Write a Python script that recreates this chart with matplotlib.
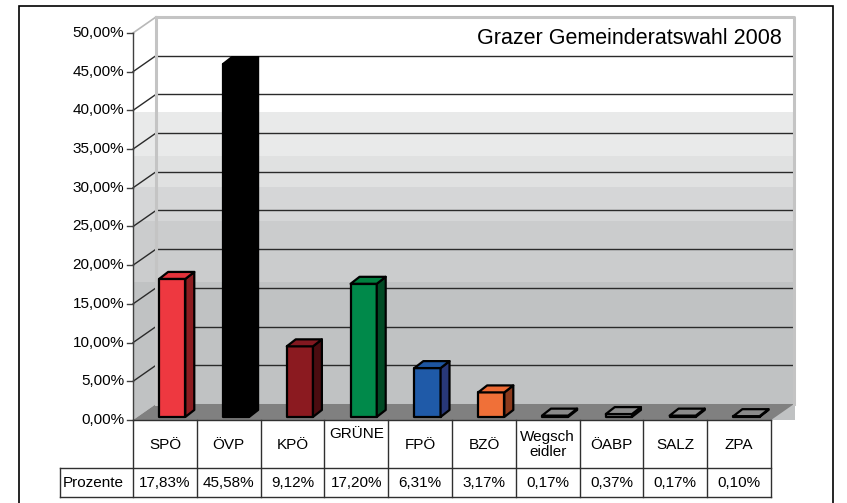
import numpy as np
import matplotlib.pyplot as plt
from matplotlib.patches import Polygon, Rectangle
from matplotlib.colors import to_rgb

plt.rcParams['font.family'] = ['Liberation Sans', 'DejaVu Sans']

# daten
parteien = ['SPÖ', 'ÖVP', 'KPÖ', 'GRÜNE', 'FPÖ', 'BZÖ', 'Wegsch\neidler', 'ÖABP', 'SALZ', 'ZPA']
werte = [17.83, 45.58, 9.12, 17.20, 6.31, 3.17, 0.17, 0.37, 0.17, 0.10]
werte_txt = ['17,83%', '45,58%', '9,12%', '17,20%', '6,31%', '3,17%', '0,17%', '0,37%', '0,17%', '0,10%']
vorne = ['#ee3840', '#000000', '#8b1a20', '#00894a', '#1f5aa8', '#f07038', '#8a8a8a', '#8a8a8a', '#8a8a8a', '#8a8a8a']
seite = ['#8c1c20', '#000000', '#4a0c10', '#004a24', '#283878', '#8c3a1c', '#8a8a8a', '#8a8a8a', '#8a8a8a', '#8a8a8a']
oben = ['#e4323a', '#000000', '#821820', '#00803f', '#1d55a0', '#ec6a34', '#8a8a8a', '#8a8a8a', '#8a8a8a', '#8a8a8a']
yticks = [0, 5, 10, 15, 20, 25, 30, 35, 40, 45, 50]

# hintergrund-streifen (untergrenze in %, farbe)
streifen_y = [39.8, 34.0, 30.0, 25.7, 17.8, 12.3, -5]
streifen_f = ['#f2f3f3', '#e9eaea', '#e0e1e1', '#d5d6d7', '#cbcccd', '#c0c2c3', '#c0c2c3']

n = len(parteien)
dx, dy = 0.36, 2.07      # tiefe der wand
bdx, bdy = 0.14, 0.9     # tiefe der balken
ymax = 50

fig = plt.figure(figsize=(8.47, 5.03), dpi=100)
ax = fig.add_axes([0, 0, 1, 1])
ax.set_xlim(-2.085, 11.19)
ax.set_ylim(-10.72, 54.26)
ax.axis('off')

# rahmen
ax.add_patch(Rectangle((-1.787, -14), 12.757, 67.49, fill=False, ec='black', lw=1.2, zorder=1))

# streifenbild fuer die waende
yy = np.linspace(ymax + dy, 0, 600)
bild = np.ones((600, 1, 3))
for i, y in enumerate(yy):
    for grenze, farbe in zip(streifen_y, streifen_f):
        if y < 39.8 and y >= grenze:
            bild[i, 0] = to_rgb(farbe)
            break
ax.imshow(bild, extent=[dx, n + dx, 0, ymax + dy], aspect='auto', interpolation='nearest', zorder=2)
seitenwand = ax.imshow(bild, extent=[0, dx, 0, ymax + dy], aspect='auto', interpolation='nearest', zorder=2)
poly = Polygon([(0, 0), (dx, dy), (dx, ymax + dy), (0, ymax)], closed=True, fc='none', ec='none')
ax.add_patch(poly)
seitenwand.set_clip_path(poly)

# boden
ax.add_patch(Polygon([(0, 0), (n, 0), (n + dx, dy), (dx, dy)], closed=True,
                     fc='#808080', ec='none', zorder=3))

# gitterlinien
for v in yticks[1:-1]:
    ax.plot([dx, n + dx], [v + dy, v + dy], color='#2a2a2a', lw=1, zorder=3)
    ax.plot([0, dx], [v, v + dy], color='#2a2a2a', lw=1, zorder=3)
ax.plot([0, dx], [ymax, ymax + dy], color='#b8b8b8', lw=1.2, zorder=3)
ax.plot([dx, n + dx, n + dx], [ymax + dy, ymax + dy, dy], color='#c4c4c4', lw=2.2, zorder=3)
ax.plot([dx, dx], [dy, ymax + dy], color='#c4c4c4', lw=2.2, zorder=3)

# y-achse
ax.plot([0, 0], [0, ymax], color='#404040', lw=1, zorder=4)
for v in yticks:
    ax.plot([-0.1, 0], [v, v], color='#404040', lw=1, zorder=4)
    ax.text(-0.14, v, f'{v:.2f}%'.replace('.', ','), ha='right', va='center', fontsize=11, zorder=5)

# balken
for i in range(n):
    x0 = i + 0.41
    x1 = i + 0.82
    y0 = 0.4
    y1 = y0 + werte[i]
    kw = dict(closed=True, ec='black', lw=1.6, joinstyle='round', zorder=6)
    ax.add_patch(Polygon([(x0, y0), (x1, y0), (x1, y1), (x0, y1)], fc=vorne[i], **kw))
    ax.add_patch(Polygon([(x1, y0), (x1 + bdx, y0 + bdy), (x1 + bdx, y1 + bdy), (x1, y1)], fc=seite[i], **kw))
    ax.add_patch(Polygon([(x0, y1), (x1, y1), (x1 + bdx, y1 + bdy), (x0 + bdx, y1 + bdy)], fc=oben[i], **kw))

# titel
ax.text(10.16, 49.3, 'Grazer Gemeinderatswahl 2008', ha='right', va='center', fontsize=15.5, zorder=7)

# tabelle
r1, r2 = -6.2, -9.95
links = -1.144
lc = '#303030'
ax.plot([0, n], [0, 0], color=lc, lw=1, zorder=7)
ax.plot([links, n], [r1, r1], color=lc, lw=1, zorder=7)
ax.plot([links, n], [r2, r2], color=lc, lw=1, zorder=7)
ax.plot([links, links], [r1, r2], color=lc, lw=1, zorder=7)
for i in range(n + 1):
    ax.plot([i, i], [0, r2], color=lc, lw=1, zorder=7)
for i in range(n):
    if parteien[i] == 'GRÜNE':
        ax.text(i + 0.5, -1.85, parteien[i], ha='center', va='center', fontsize=11, zorder=8)
    else:
        ax.text(i + 0.5, -3.2, parteien[i], ha='center', va='center', fontsize=11,
                linespacing=1.1, zorder=8)
    ax.text(i + 0.5, -8.1, werte_txt[i], ha='center', va='center', fontsize=11, zorder=8)
ax.text(links + 0.05, -8.1, 'Prozente', ha='left', va='center', fontsize=11, zorder=8)

fig.savefig('out.png', dpi=100)
